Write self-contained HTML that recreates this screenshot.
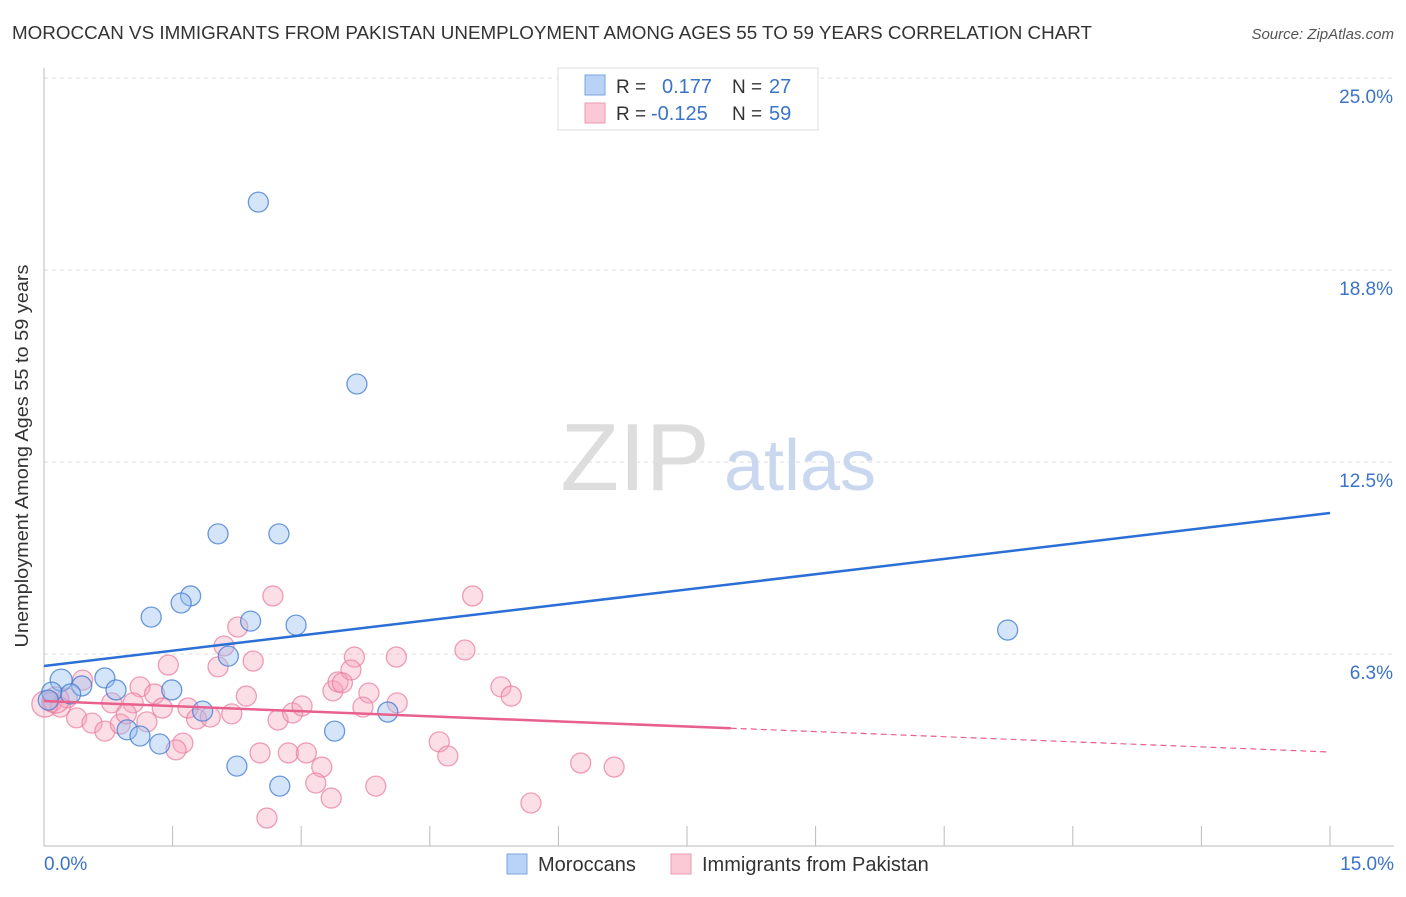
<!DOCTYPE html>
<html><head><meta charset="utf-8"><style>
body{margin:0;background:#fff;font-family:"Liberation Sans",sans-serif;}
svg text{font-family:"Liberation Sans",sans-serif;}
</style></head><body>
<svg id="chart" width="1406" height="892" xmlns="http://www.w3.org/2000/svg">
<text x="12" y="39" font-size="18" fill="#333" textLength="1080" lengthAdjust="spacingAndGlyphs">MOROCCAN VS IMMIGRANTS FROM PAKISTAN UNEMPLOYMENT AMONG AGES 55 TO 59 YEARS CORRELATION CHART</text>
<text x="1394" y="39" font-size="15" fill="#555" font-style="italic" text-anchor="end">Source: ZipAtlas.com</text>
<g id="grid"></g>
<g><text x="635" y="490" font-size="96" fill="#ddd" font-family="Liberation Serif" text-anchor="middle">ZIP</text><text x="800" y="490" font-size="72" fill="#c9d8ef" text-anchor="middle">atlas</text></g>
<line x1="44" y1="68" x2="44" y2="846" stroke="#bbb"/>
<line x1="44" y1="846" x2="1394" y2="846" stroke="#bbb"/>
<g id="ticks"></g>
<g id="pts"></g>
<g id="trends"></g>
<text x="28" y="456" font-size="18" fill="#333" text-anchor="middle" textLength="383" lengthAdjust="spacingAndGlyphs" transform="rotate(-90 28 456)">Unemployment Among Ages 55 to 59 years</text>
<text x="44" y="870" font-size="19" fill="#3b73c8">0.0%</text>
<text x="1394" y="870" font-size="19" fill="#3b73c8" text-anchor="end">15.0%</text>
<g>
<rect x="558" y="68" width="260" height="62" fill="#fff" stroke="#ddd"/>
<rect x="585" y="75" width="20" height="20" fill="#b8d3f5" stroke="#7aa6e0"/>
<rect x="585" y="103" width="20" height="20" fill="#fbc8d6" stroke="#ee9ab2"/>
<text x="616" y="93" font-size="19" fill="#333">R =</text><text x="662" y="93" font-size="20" fill="#3b73c8">0.177</text>
<text x="732" y="93" font-size="19" fill="#333">N =</text><text x="769" y="93" font-size="20" fill="#3b73c8">27</text>
<text x="616" y="120" font-size="19" fill="#333">R =</text><text x="651" y="120" font-size="20" fill="#3b73c8">-0.125</text>
<text x="732" y="120" font-size="19" fill="#333">N =</text><text x="769" y="120" font-size="20" fill="#3b73c8">59</text>
</g>
<g>
<rect x="507" y="854" width="20" height="20" fill="#b8d3f5" stroke="#7aa6e0"/>
<text x="538" y="871" font-size="20" fill="#333">Moroccans</text>
<rect x="671" y="854" width="20" height="20" fill="#fbc8d6" stroke="#ee9ab2"/>
<text x="702" y="871" font-size="20" fill="#333">Immigrants from Pakistan</text>
</g>
</svg>
<script>
const yTicks=[6.3,12.5,18.8,25.0];
const blueX=[2.50,3.65,2.03,2.74,1.71,1.60,1.25,2.41,2.94,2.15,11.24,0.20,0.71,0.44,0.84,1.49,0.31,0.09,0.05,1.85,4.01,0.97,1.12,3.39,1.35,2.25,2.75];
const blueY=[20.96,15.04,10.16,10.16,8.14,7.91,7.45,7.32,7.19,6.18,7.03,5.40,5.47,5.21,5.08,5.08,4.95,5.01,4.75,4.39,4.36,3.78,3.58,3.74,3.32,2.60,1.95];
const pinkX=[2.67,2.26,2.10,1.45,2.03,2.44,0.45,1.12,1.29,1.04,0.79,1.38,1.68,1.78,1.94,2.19,0.09,0.27,0.19,0.38,0.56,0.71,0.89,0.96,1.20,1.62,1.54,2.36,2.73,2.90,3.01,2.52,2.85,3.06,3.24,3.17,3.35,2.60,3.37,3.43,5.00,3.62,4.11,4.91,3.58,3.48,3.79,3.72,4.12,5.33,5.45,4.61,4.71,3.87,5.68,6.26,6.65,0.01,0.14];
const pinkY=[8.14,7.13,6.51,5.89,5.83,6.02,5.40,5.18,4.95,4.66,4.66,4.49,4.49,4.13,4.20,4.30,4.69,4.82,4.52,4.17,4.00,3.74,3.97,4.30,4.04,3.35,3.13,4.88,4.10,4.33,4.56,3.03,3.03,3.03,2.57,2.05,1.56,0.91,5.05,5.34,8.14,6.15,6.15,6.38,5.73,5.31,4.98,4.52,4.66,5.18,4.88,3.39,2.93,1.95,1.40,2.70,2.57,4.62,4.75];
const blueTrend=[5.86,10.84];
const pinkTrend=[4.72,3.06];
const pinkSolidEnd=8.01;
const NS='http://www.w3.org/2000/svg';
const sx=v=>44+v*1286/15, sy=v=>846-v*30.72;
function mk(t,a,p){const e=document.createElementNS(NS,t);for(const k in a)e.setAttribute(k,a[k]);p.appendChild(e);return e;}
const grid=document.getElementById('grid');
yTicks.forEach(t=>{const yy=sy(t===6.3?6.25:t===18.8?18.75:t);
const l=mk('line',{x1:44,x2:1394,y1:yy,y2:yy,stroke:'#ddd','stroke-dasharray':'4,4'},grid);


const tx=mk('text',{x:1393,y:yy+25,'font-size':19,fill:'#3b73c8','text-anchor':'end'},grid);
tx.textContent=t.toFixed(1)+'%';

});
const tk=document.getElementById('ticks');
for(let i=0;i<=10;i++){const l=mk('line',{x1:sx(i*1.5),x2:sx(i*1.5),y1:826,y2:846,stroke:'#bbb'},tk);

}
const pts=document.getElementById('pts');
pinkX.forEach((x,i)=>{const r=i>=57?13:10;const c=mk('circle',{cx:sx(x),cy:sy(pinkY[i]),r:r,fill:'rgba(246,160,185,0.35)',stroke:'rgba(232,120,155,0.7)','stroke-width':1.3},pts);

});
blueX.forEach((x,i)=>{const r=(i===11)?11:10;const c=mk('circle',{cx:sx(x),cy:sy(blueY[i]),r:r,fill:'rgba(150,190,240,0.4)',stroke:'rgba(60,120,210,0.75)','stroke-width':1.3},pts);

});
const tr=document.getElementById('trends');
let l=mk('line',{x1:sx(0),y1:sy(blueTrend[0]),x2:sx(15),y2:sy(blueTrend[1]),stroke:'#2a6fd6','stroke-width':2.5},tr);


const py=x=>pinkTrend[0]+(pinkTrend[1]-pinkTrend[0])*x/15;
l=mk('line',{x1:sx(0),y1:sy(py(0)),x2:sx(pinkSolidEnd),y2:sy(py(pinkSolidEnd)),stroke:'#e8608e','stroke-width':2.5},tr);


l=mk('line',{x1:sx(pinkSolidEnd),y1:sy(py(pinkSolidEnd)),x2:sx(15),y2:sy(py(15)),stroke:'#e8608e','stroke-width':1.2,'stroke-dasharray':'6,4'},tr);


</script>
</body></html>
